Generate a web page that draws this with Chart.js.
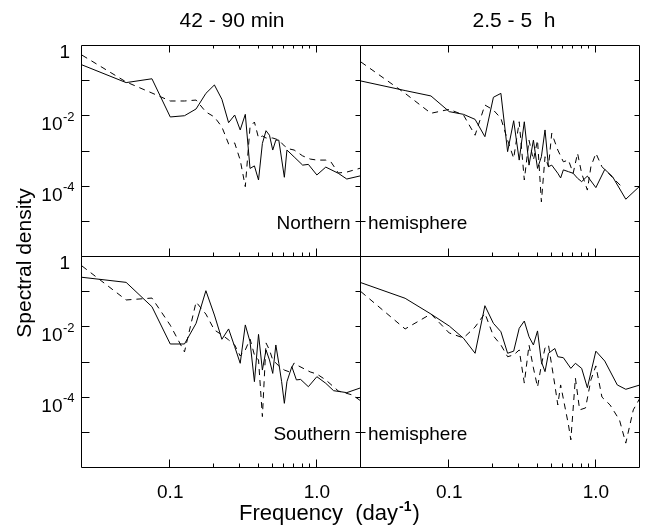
<!DOCTYPE html>
<html>
<head>
<meta charset="utf-8">
<title>Spectral density</title>
<script src="https://cdn.jsdelivr.net/npm/chart.js@4.4.1/dist/chart.umd.min.js"></script>
<style>
  html, body { margin: 0; padding: 0; background: #fff; }
  #wrap { position: relative; width: 645px; height: 527px; }
  #wrap canvas { position: absolute; left: 0; top: 0; }
</style>
</head>
<body>
<div id="wrap">
  <canvas id="tl" width="645" height="527"></canvas>
  <canvas id="tr" width="645" height="527"></canvas>
  <canvas id="bl" width="645" height="527"></canvas>
  <canvas id="br" width="645" height="527"></canvas>
</div>
<script>
// Frecuencias en day^-1, densidad espectral
// 42 - 90 min, hemisferio norte
const tlSolidFreq = [0.025, 0.05, 0.075, 0.1, 0.125, 0.15, 0.175, 0.2, 0.225, 0.25, 0.275, 0.3, 0.325, 0.35, 0.375, 0.4, 0.425, 0.45, 0.475, 0.5, 0.525, 0.55, 0.6, 0.625, 0.7, 0.8, 0.875, 1.0, 1.15, 1.4, 1.6, 2.0];
const tlSolidPsd = [0.29, 0.091, 0.117, 0.0096, 0.0104, 0.0162, 0.045, 0.078, 0.0305, 0.0066, 0.0109, 0.0041, 0.0114, 3.3e-4, 3.9e-4, 1.55e-4, 1.7e-3, 3.9e-3, 2.9e-3, 1.1e-3, 2.1e-3, 2.1e-3, 1.85e-4, 1.1e-3, 7.0e-4, 4.1e-4, 4.3e-4, 2.15e-4, 3.6e-4, 2.4e-4, 1.65e-4, 2.05e-4];
const tlDashFreq = [0.025, 0.05, 0.075, 0.1, 0.125, 0.15, 0.175, 0.2, 0.225, 0.25, 0.275, 0.3, 0.325, 0.35, 0.375, 0.4, 0.425, 0.45, 0.5, 0.55, 0.6, 0.65, 0.7, 0.8, 0.9, 1.0, 1.15, 1.25, 1.4, 1.6, 2.0];
const tlDashPsd = [0.55, 0.095, 0.046, 0.0273, 0.0273, 0.029, 0.0133, 0.0096, 0.005, 0.00164, 0.00175, 5.7e-4, 1.0e-4, 0.005, 0.0069, 0.00242, 0.00276, 0.00242, 0.00242, 0.00212, 0.00144, 0.00118, 0.0011, 7.5e-4, 6.1e-4, 5.7e-4, 5.7e-4, 5.0e-4, 2.45e-4, 2.6e-4, 3.4e-4];

// 2.5 - 5 h, hemisferio norte
const trSolidFreq = [0.025, 0.05, 0.075, 0.1, 0.125, 0.15, 0.175, 0.2, 0.225, 0.25, 0.275, 0.3, 0.325, 0.35, 0.375, 0.4, 0.425, 0.45, 0.475, 0.5, 0.55, 0.575, 0.6, 0.65, 0.7, 0.75, 0.8, 0.875, 1.0, 1.15, 1.3, 1.6, 2.0];
const trSolidPsd = [0.101, 0.054, 0.038, 0.0136, 0.0114, 0.0082, 0.00264, 0.0348, 0.045, 9.9e-4, 0.0075, 5.7e-4, 0.007, 4.1e-4, 0.0021, 3.3e-4, 7.1e-4, 0.0041, 3.7e-4, 4.1e-4, 2.4e-4, 1.77e-4, 3.0e-4, 2.67e-4, 2.4e-4, 1.73e-4, 1.39e-4, 2.0e-4, 9.4e-5, 3.1e-4, 1.92e-4, 4.4e-5, 1.05e-4];
const trDashFreq = [0.025, 0.05, 0.075, 0.1, 0.125, 0.15, 0.175, 0.2, 0.225, 0.25, 0.275, 0.3, 0.325, 0.35, 0.375, 0.4, 0.425, 0.45, 0.475, 0.5, 0.55, 0.6, 0.65, 0.7, 0.75, 0.8, 0.875, 0.925, 1.0, 1.1, 1.25, 1.5];
const trDashPsd = [0.35, 0.045, 0.0122, 0.0158, 0.0109, 0.0029, 0.021, 0.0151, 0.0088, 0.0021, 6.4e-4, 0.007, 1.55e-4, 0.0021, 5.7e-4, 0.0021, 3.7e-5, 7.1e-4, 3.7e-4, 0.0033, 0.0011, 5.1e-4, 5.7e-4, 2.4e-4, 8.9e-4, 2.4e-4, 8.0e-5, 3.7e-4, 8.9e-4, 3.7e-4, 2.15e-4, 1.0e-4];

// 42 - 90 min, hemisferio sur
const blSolidFreq = [0.025, 0.05, 0.075, 0.1, 0.125, 0.15, 0.175, 0.2, 0.225, 0.25, 0.275, 0.3, 0.325, 0.35, 0.375, 0.4, 0.425, 0.45, 0.475, 0.5, 0.525, 0.55, 0.575, 0.6, 0.625, 0.675, 0.725, 0.775, 0.875, 1.0, 1.15, 1.3, 1.6, 2.0];
const blSolidPsd = [0.265, 0.19, 0.0386, 0.00336, 0.00336, 0.013, 0.11, 0.0224, 0.00457, 0.009, 0.00282, 9.5e-4, 0.0117, 0.0039, 2.85e-4, 0.0063, 6.1e-4, 0.00227, 0.00118, 4.9e-4, 0.00315, 9.5e-4, 2.85e-4, 6.9e-5, 2.85e-4, 7.6e-4, 3.2e-4, 3.3e-4, 2.05e-4, 3.95e-4, 2.56e-4, 1.58e-4, 1.39e-4, 1.92e-4];
const blDashFreq = [0.025, 0.05, 0.075, 0.1, 0.125, 0.15, 0.175, 0.2, 0.225, 0.25, 0.275, 0.3, 0.325, 0.35, 0.375, 0.4, 0.425, 0.45, 0.475, 0.5, 0.55, 0.6, 0.65, 0.7, 0.75, 0.9, 1.0, 1.15, 1.4, 1.75, 2.0];
const blDashPsd = [0.555, 0.06, 0.068, 0.0115, 0.002, 0.0525, 0.0238, 0.0084, 0.0061, 0.0044, 0.00315, 0.00153, 0.00227, 0.00466, 0.00164, 0.00118, 2.9e-5, 0.0036, 0.00227, 0.00118, 8.0e-4, 6.1e-4, 5.4e-4, 9.7e-4, 8.0e-4, 5.4e-4, 4.7e-4, 3.2e-4, 1.55e-4, 1.19e-4, 8.0e-5];

// 2.5 - 5 h, hemisferio sur
const brSolidFreq = [0.025, 0.05, 0.075, 0.1, 0.125, 0.15, 0.175, 0.2, 0.225, 0.25, 0.275, 0.3, 0.325, 0.35, 0.375, 0.4, 0.425, 0.45, 0.475, 0.525, 0.55, 0.6, 0.675, 0.725, 0.8, 0.875, 1.0, 1.15, 1.4, 1.6, 2.0];
const brSolidPsd = [0.186, 0.067, 0.0239, 0.0109, 0.0049, 0.00183, 0.0412, 0.013, 0.0075, 0.00183, 0.0021, 0.0094, 0.0151, 0.0054, 0.00315, 0.0079, 0.00105, 5.5e-4, 0.00183, 0.0025, 0.00146, 0.00137, 6.8e-4, 9.5e-4, 6.8e-4, 1.92e-4, 0.0021, 0.0011, 2.3e-4, 1.73e-4, 2.3e-4];
const brDashFreq = [0.025, 0.05, 0.075, 0.1, 0.125, 0.15, 0.175, 0.2, 0.225, 0.25, 0.275, 0.3, 0.325, 0.35, 0.375, 0.4, 0.425, 0.45, 0.475, 0.525, 0.55, 0.575, 0.65, 0.675, 0.725, 0.775, 0.85, 0.925, 1.0, 1.1, 1.25, 1.45, 1.6, 1.8, 2.0];
const brDashPsd = [0.103, 0.009, 0.024, 0.0069, 0.005, 0.0102, 0.025, 0.0057, 0.00315, 0.00146, 0.00164, 0.00227, 2.6e-4, 0.00315, 7.0e-4, 2.0e-4, 8.5e-4, 0.0026, 0.00315, 2.3e-4, 6.2e-5, 2.3e-4, 1.7e-5, 6.3e-6, 3.6e-4, 4.5e-5, 5.1e-5, 3.2e-4, 8.0e-4, 1.04e-4, 6.2e-5, 2.3e-5, 5.1e-6, 4.5e-5, 9.8e-5];

// Ejes
const xMin = 0.025, xMax = 2.0;
const yMin = 1e-6, yMax = 1;
const yTickValues = [1e-1, 1e-2, 1e-3, 1e-4, 1e-5];
const yCrossTicks = [1e-5];
const yLabelValues = [1, 1e-2, 1e-4];
const yLabelExps = ['', '-2', '-4'];
const xMajorTicks = [0.1, 1.0];
const xMinorTicks = [0.2, 0.3, 0.4, 0.5, 0.6, 0.7, 0.8, 0.9];
const xTickLabels = ['0.1', '1.0'];

const FONT = "'Liberation Sans', Arial, sans-serif";

// Marco + ticks hacia dentro + etiquetas de cada panel
const panelFrame = {
  id: 'panelFrame',
  afterDatasetsDraw(chart, args, opts) {
    const { ctx, chartArea: a, scales: { x, y } } = chart;
    const px = (v) => Math.round(v) - 0.5;
    const L = px(a.left), R = px(a.right), T = px(a.top), B = px(a.bottom);

    ctx.save();
    ctx.strokeStyle = '#000';
    ctx.lineWidth = 1;
    ctx.beginPath();
    ctx.rect(L, T, R - L, B - T);

    for (const v of yTickValues) {
      const py = px(y.getPixelForValue(v));
      if (opts.left) { ctx.moveTo(L, py); ctx.lineTo(L + 8, py); }
      if (opts.cross && yCrossTicks.includes(v)) { ctx.moveTo(L, py); ctx.lineTo(L + 5, py); }
      if (opts.right) { ctx.moveTo(R, py); ctx.lineTo(R - 5, py); }
    }
    const xTicks = xMajorTicks.map((v) => [v, 8]).concat(xMinorTicks.map((v) => [v, 4]));
    for (const [v, len] of xTicks) {
      const qx = px(x.getPixelForValue(v));
      if (opts.top) { ctx.moveTo(qx, T); ctx.lineTo(qx, T + len - 1); }
      if (opts.bottom) { ctx.moveTo(qx, B); ctx.lineTo(qx, B - len); }
    }
    ctx.stroke();

    ctx.fillStyle = '#000';
    ctx.textBaseline = 'alphabetic';
    if (opts.yLabels) {
      yLabelValues.forEach((v, i) => {
        const py = y.getPixelForValue(v);
        ctx.font = `19px ${FONT}`;
        if (!yLabelExps[i]) {
          ctx.textAlign = 'left';
          ctx.fillText('1', a.left - 22.5, py + 12);
        } else {
          ctx.textAlign = 'right';
          ctx.fillText('10', a.left - 19.5, py + 14);
          ctx.font = `13px ${FONT}`;
          ctx.textAlign = 'left';
          ctx.fillText(yLabelExps[i], a.left - 19, py + 4.5);
        }
      });
    }
    if (opts.xLabels) {
      ctx.font = `19px ${FONT}`;
      ctx.textAlign = 'center';
      xMajorTicks.forEach((v, i) => {
        ctx.fillText(xTickLabels[i], x.getPixelForValue(v), a.bottom + 30);
      });
    }
    ctx.restore();
  }
};

// Textos de la pagina (titulos, ejes, hemisferios)
const pageText = {
  id: 'pageText',
  afterDraw(chart) {
    const ctx = chart.ctx;
    ctx.save();
    ctx.fillStyle = '#000';
    ctx.textBaseline = 'alphabetic';

    ctx.font = `21px ${FONT}`;
    ctx.textAlign = 'center';
    ctx.fillText('42 - 90 min', 232, 27);
    ctx.fillText('2.5 - 5  h', 514, 27);

    ctx.font = `19px ${FONT}`;
    ctx.textAlign = 'right';
    ctx.fillText('Northern', 350.5, 228.5);
    ctx.fillText('Southern', 350.5, 439.5);
    ctx.textAlign = 'left';
    ctx.fillText('hemisphere', 368, 228.5);
    ctx.fillText('hemisphere', 368, 439.5);

    // eje y rotado
    ctx.save();
    ctx.translate(31, 263);
    ctx.rotate(-Math.PI / 2);
    ctx.font = `21px ${FONT}`;
    ctx.textAlign = 'center';
    ctx.fillText('Spectral density', 0, 0);
    ctx.restore();

    // eje x con superindice
    ctx.textAlign = 'left';
    let cx = 239;
    ctx.font = `22px ${FONT}`;
    const main = 'Frequency  (day';
    ctx.fillText(main, cx, 520);
    cx += ctx.measureText(main).width + 1;
    ctx.font = `bold 14px ${FONT}`;
    ctx.fillText('-1', cx, 511);
    cx += ctx.measureText('-1').width + 1;
    ctx.font = `22px ${FONT}`;
    ctx.fillText(')', cx, 520);
    ctx.restore();
  }
};

function makeDatasets(solidFreq, solidPsd, dashFreq, dashPsd) {
  const line = (freq, psd, dash) => ({
    data: freq.map((f, i) => ({ x: f, y: psd[i] })),
    borderColor: '#000',
    borderWidth: 1,
    borderDash: dash,
    pointRadius: 0,
    tension: 0,
    fill: false
  });
  return [line(dashFreq, dashPsd, [6, 5]), line(solidFreq, solidPsd, [])];
}

function makePanel(id, padding, datasets, frameOpts, extraPlugins) {
  return new Chart(document.getElementById(id), {
    type: 'line',
    data: { datasets },
    options: {
      responsive: false,
      animation: false,
      events: [],
      layout: { padding },
      plugins: {
        legend: { display: false },
        tooltip: { enabled: false },
        panelFrame: frameOpts
      },
      scales: {
        x: { type: 'logarithmic', min: xMin, max: xMax, display: false },
        y: { type: 'logarithmic', min: yMin, max: yMax, display: false }
      }
    },
    plugins: [panelFrame].concat(extraPlugins || [])
  });
}

// Paneles: x 82-361-640, y 46-257-468 dentro de 645x527
makePanel('tl', { left: 82, right: 284, top: 46, bottom: 270 },
  makeDatasets(tlSolidFreq, tlSolidPsd, tlDashFreq, tlDashPsd),
  { left: true, right: true, top: true, bottom: true, yLabels: true, xLabels: false });
makePanel('tr', { left: 361, right: 5, top: 46, bottom: 270 },
  makeDatasets(trSolidFreq, trSolidPsd, trDashFreq, trDashPsd),
  { left: false, cross: true, right: true, top: true, bottom: true, yLabels: false, xLabels: false });
makePanel('bl', { left: 82, right: 284, top: 257, bottom: 59 },
  makeDatasets(blSolidFreq, blSolidPsd, blDashFreq, blDashPsd),
  { left: true, right: true, top: false, bottom: true, yLabels: true, xLabels: true });
makePanel('br', { left: 361, right: 5, top: 257, bottom: 59 },
  makeDatasets(brSolidFreq, brSolidPsd, brDashFreq, brDashPsd),
  { left: false, cross: true, right: true, top: false, bottom: true, yLabels: false, xLabels: true },
  [pageText]);
</script>
</body>
</html>
